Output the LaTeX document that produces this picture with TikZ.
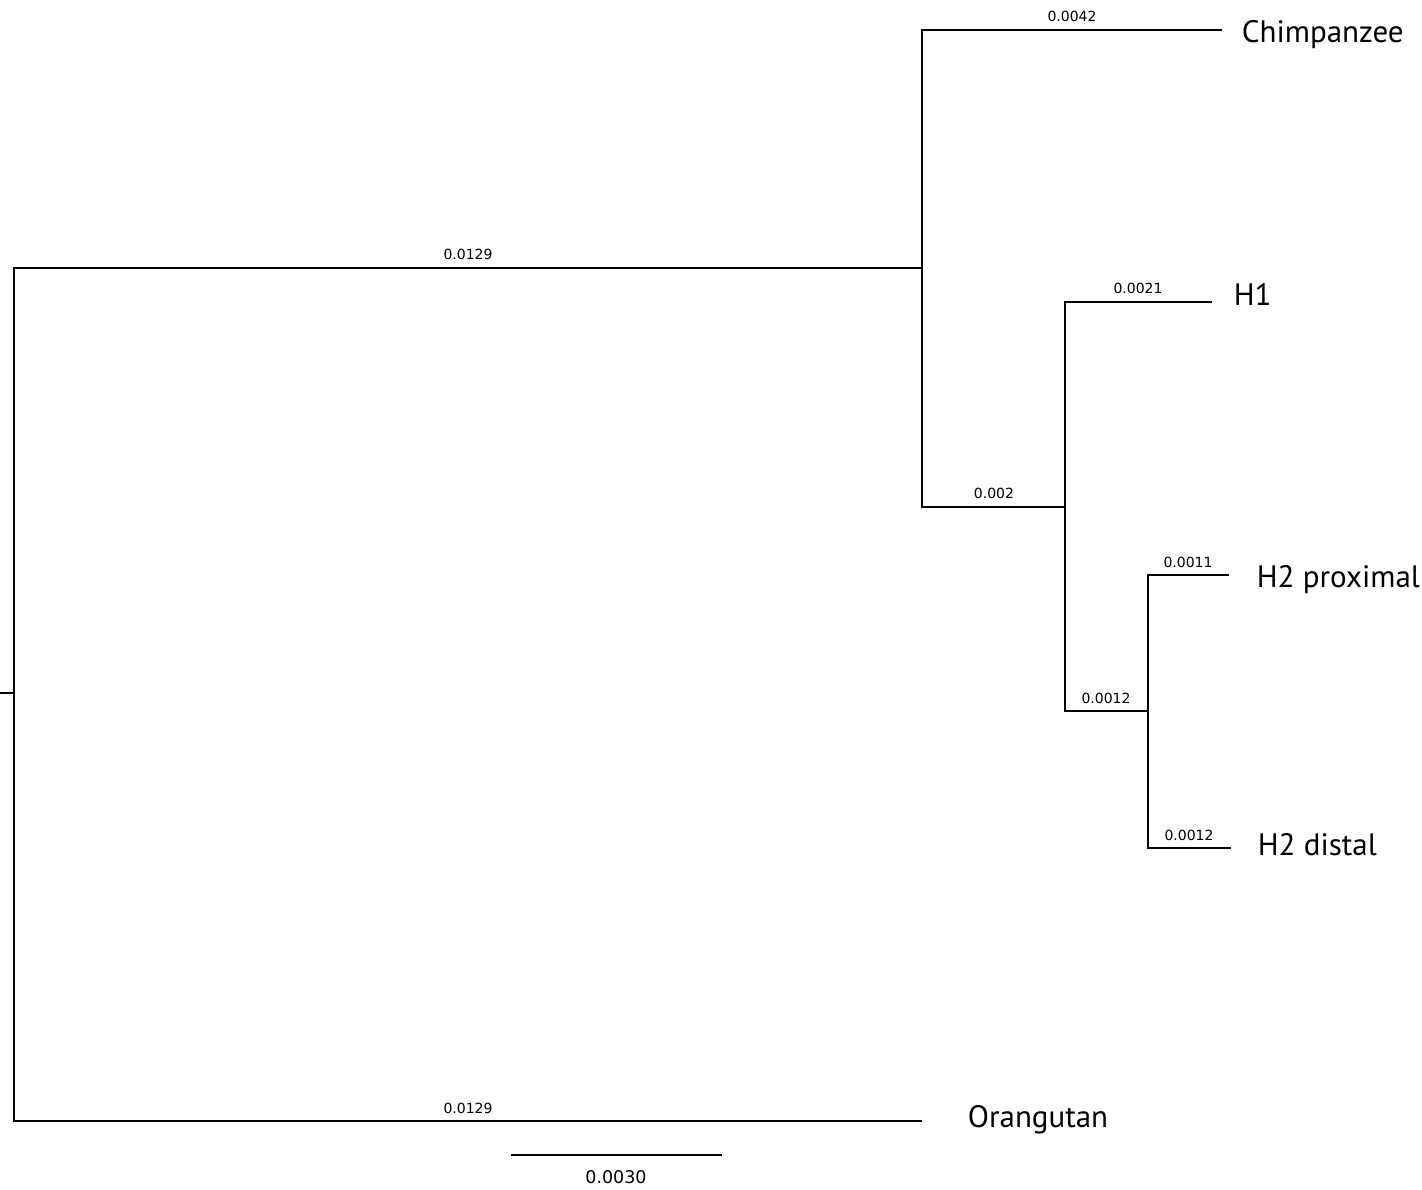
\documentclass[tikz,border=0pt]{standalone}
\usepackage{fontspec}
\setmainfont{PT Sans}
\newfontfamily\numfont{DejaVu Sans}
\usetikzlibrary{positioning}

\tikzset{
    brlen/.style={anchor=base, inner sep=0pt, font=\numfont\fontsize{14}{16}\selectfont},
    leaf/.style={anchor=base west, inner sep=0pt, font=\fontsize{31}{36}\selectfont},
}

\begin{document}
\begin{tikzpicture}[x=1pt, y=-1pt, line width=1.8pt]
    \useasboundingbox (0,0) rectangle (1422,1190);

    % inner nodes of the tree
    \coordinate (root) at (14,693);
    \coordinate (nA) at (922,268);   % chimpanzee + human
    \coordinate (nH) at (1065,507);  % human
    \coordinate (nH2) at (1148,711); % H2

    % tips
    \coordinate (tC) at (1222,30);
    \coordinate (tH1) at (1212,302);
    \coordinate (tP) at (1229,575);
    \coordinate (tD) at (1231,848);
    \coordinate (tO) at (922,1121);

    % branches
    \draw (0,693) -- (root);
    \draw (nA) -| (root) |- (tO);
    \draw (tC) -| (nA) |- (nH);
    \draw (tH1) -| (nH) |- (nH2);
    \draw (tP) -| (nH2) |- (tD);

    % branch lengths
    \node[brlen] (bA) at (468,260) {0.0129};
    \node[brlen] (bO) at (468,1113) {0.0129};
    \node[brlen] (bC) at (1072,22) {0.0042};
    \node[brlen] (bH) at (994,498.5) {0.002};
    \node[brlen] (bH1) at (1138,294) {0.0021};
    \node[brlen] (bH2) at (1106,703) {0.0012};
    \node[brlen] (bP) at (1188,567) {0.0011};
    \node[brlen] (bD) at (1189,840) {0.0012};

    % taxon names
    \node[leaf] (chimp) at (1241,43) {Chimpanzee};
    \node[leaf] (h1) at (1233,306) {H1};
    \node[leaf] (prox) at (1256,587) {H2 proximal};
    \node[leaf] (dist) at (1257,855) {H2 distal};
    \node[leaf] (orang) at (967,1127) {Orangutan};

    % scale bar
    \draw (511,1155) -- (722,1155);
    \node[brlen, font=\numfont\fontsize{17.5}{20}\selectfont] (scale) at (616,1183) {0.0030};
\end{tikzpicture}
\end{document}
